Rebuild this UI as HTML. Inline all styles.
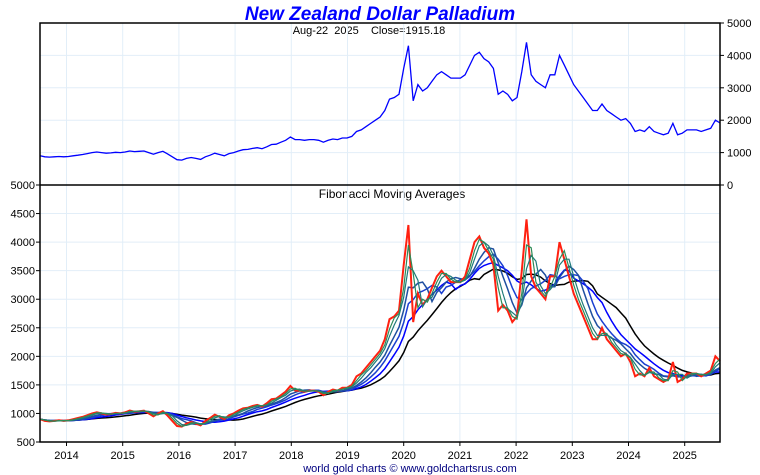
<!DOCTYPE html>
<html><head><meta charset="utf-8"><style>
body{margin:0;background:#fff;}
svg{display:block;font-family:"Liberation Sans",sans-serif;}
</style></head><body>
<svg id="c" width="760" height="475">
<text x="380" y="20" text-anchor="middle" font-size="19" font-weight="bold" font-style="italic" fill="#0000ff">New Zealand Dollar Palladium</text>
<text x="369" y="34" text-anchor="middle" font-size="11" fill="#000" style="white-space:pre">Aug-22  2025    Close=1915.18</text>
<text x="392" y="198" text-anchor="middle" font-size="12" fill="#000">Fibonacci Moving Averages</text>
<text x="410" y="472" text-anchor="middle" font-size="11" fill="#000080">world gold charts © www.goldchartsrus.com</text>
<g id="grid"></g><g id="marks"></g><g id="axes"></g>
</svg>
<script>
const years=[2014,2015,2016,2017,2018,2019,2020,2021,2022,2023,2024,2025];
const topTicks=[0,1000,2000,3000,4000,5000];
const botTicks=[500,1000,1500,2000,2500,3000,3500,4000,4500,5000];
const startYear=2013.53;
const prices=[900,870,860,870,880,
870,880,900,920,940,970,1000,1020,1000,980,990,1010,
1000,1020,1050,1030,1040,1050,1000,950,1000,1040,960,870,
780,770,820,850,820,790,870,920,980,940,900,970,
1000,1050,1090,1100,1130,1150,1120,1180,1250,1260,1320,1380,
1480,1400,1400,1380,1400,1400,1380,1320,1380,1420,1400,1450,
1450,1500,1650,1700,1800,1900,2000,2100,2300,2650,2700,2800,
3600,4300,2600,3100,2900,3000,3200,3400,3500,3400,3300,3300,
3300,3400,3700,4000,4100,3900,3800,3600,2800,2900,2800,2600,
2700,3500,4400,3400,3200,3100,3000,3400,3400,4000,3700,3400,
3100,2900,2700,2500,2300,2300,2500,2300,2200,2100,2000,2050,
1900,1650,1700,1650,1800,1650,1600,1550,1600,1900,1550,1600,
1700,1700,1700,1650,1700,1750,2000,1915];
const maPeriods=[2,3,5,7,10,15];
const maColors=['#2e8b57','#1f7a7a','#1f4fa0','#1a3fd0','#0000ff','#000000'];

const ns='http://www.w3.org/2000/svg';
const L=40,R=720;
const xS=y=>66.5+(y-2014)*56.2;
const yTop=v=>185-v*162/5000;
const yBot=v=>442-(v-500)*257/4500;
function mk(t,a,p){const e=document.createElementNS(ns,t);for(const k in a)e.setAttribute(k,a[k]);p.appendChild(e);return e;}
const grid=document.getElementById('grid'),marks=document.getElementById('marks'),axes=document.getElementById('axes');
topTicks.forEach(v=>{
 if(v>0&&v<5000){const g=mk('line',{x1:L,x2:R,y1:yTop(v),y2:yTop(v),stroke:'#e2eef8'},grid);
 }
 const t=mk('text',{x:727,y:yTop(v)+4,'font-size':11},axes);t.textContent=v;
 
 mk('line',{x1:R,x2:R+4,y1:yTop(v),y2:yTop(v),stroke:'#000'},axes);
});
botTicks.forEach(v=>{
 if(v>500&&v<5000){const g=mk('line',{x1:L,x2:R,y1:yBot(v),y2:yBot(v),stroke:'#e2eef8'},grid);
 }
 const t=mk('text',{x:35,y:yBot(v)+4,'font-size':11,'text-anchor':'end'},axes);t.textContent=v;
 
 mk('line',{x1:L-4,x2:L,y1:yBot(v),y2:yBot(v),stroke:'#000'},axes);
});
years.forEach(y=>{
 const x=xS(y);
 const g=mk('line',{x1:x,x2:x,y1:23,y2:442,stroke:'#e2eef8'},grid);
 
 mk('line',{x1:x,x2:x,y1:442,y2:446,stroke:'#000'},axes);
 const t=mk('text',{x:x,y:459,'font-size':11,'text-anchor':'middle'},axes);t.textContent=y;
 
});
const frame=mk('path',{d:`M${L},23H${R}V442H${L}ZM${L},185H${R}`,fill:'none',stroke:'#000','stroke-width':1.5},axes);

const dates=prices.map((_,i)=>startYear+i*(2025.63-startYear)/(prices.length-1));
function path(vals,ys){let d='';vals.forEach((v,i)=>{if(v==null)return;d+=(d?'L':'M')+xS(dates[i]).toFixed(1)+','+ys(v).toFixed(1);});return d;}
const tp=mk('path',{d:path(prices,yTop),fill:'none',stroke:'#0000ff','stroke-width':1.3},marks);

function sma(p){return prices.map((_,i)=>{const s=Math.max(0,i-p+1);let t=0;for(let j=s;j<=i;j++)t+=prices[j];return t/(i-s+1);});}
for(let k=maPeriods.length-1;k>=2;k--){
 const m=mk('path',{d:path(sma(maPeriods[k]),yBot),fill:'none',stroke:maColors[k],'stroke-width':1.5},marks);
 
}
const bp=mk('path',{d:path(prices,yBot),fill:'none',stroke:'#ff2010','stroke-width':2},marks);

for(let k=1;k>=0;k--){
 const m=mk('path',{d:path(sma(maPeriods[k]),yBot),fill:'none',stroke:maColors[k],'stroke-width':1.2},marks);
 
}
</script>
</body></html>
